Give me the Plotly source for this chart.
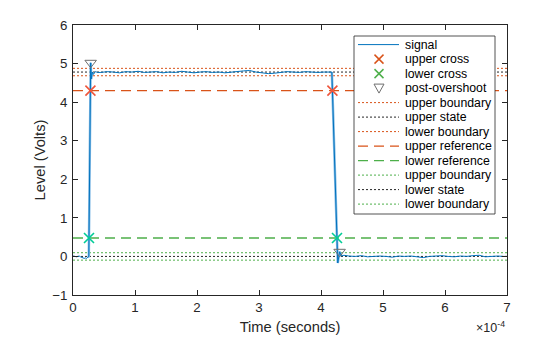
import plotly.graph_objects as go

# ---------------- data ----------------
# time in units of 1e-4 s
time_e4 = [0.00, 0.02, 0.04, 0.06, 0.08, 0.10, 0.12, 0.14, 0.16, 0.18, 0.20, 0.22, 0.24,
           0.255, 0.285, 0.295, 0.31, 0.33, 0.36, 0.40,
           0.45, 0.55, 0.65, 0.75, 0.85, 0.95, 1.05, 1.15, 1.25, 1.35, 1.45, 1.55, 1.65,
           1.75, 1.85, 1.95, 2.05, 2.15, 2.25, 2.35, 2.45, 2.55, 2.65, 2.75, 2.85, 2.95,
           3.05, 3.15, 3.25, 3.35, 3.45, 3.55, 3.65, 3.75, 3.85, 3.95, 4.05, 4.15,
           4.175, 4.27, 4.30, 4.33, 4.37,
           4.45, 4.55, 4.65, 4.75, 4.85, 4.95, 5.05, 5.15, 5.25, 5.35, 5.45, 5.55, 5.65,
           5.75, 5.85, 5.95, 6.05, 6.15, 6.25, 6.35, 6.45, 6.55, 6.65, 6.75, 6.85, 6.95, 7.00]
level = [0.01, 0.00, 0.01, -0.01, 0.00, 0.01, -0.01, -0.03, -0.05, -0.05, -0.04, -0.05, -0.02,
         0.00, 5.02, 4.60, 4.78, 4.72, 4.79, 4.77,
         4.77, 4.79, 4.78, 4.76, 4.79, 4.78, 4.80, 4.77, 4.78, 4.79, 4.76, 4.78, 4.77,
         4.80, 4.78, 4.76, 4.78, 4.79, 4.77, 4.78, 4.76, 4.78, 4.79, 4.81, 4.82, 4.78,
         4.76, 4.74, 4.75, 4.77, 4.79, 4.78, 4.77, 4.79, 4.78, 4.77, 4.78, 4.78,
         4.78, -0.17, 0.12, 0.01, 0.03,
         0.01, 0.00, 0.02, -0.01, 0.00, 0.01, 0.00, -0.02, 0.01, 0.00, 0.01, -0.01, -0.03,
         0.00, 0.01, 0.02, 0.00, -0.01, 0.01, 0.00, 0.02, 0.03, -0.01, 0.00, 0.01, 0.00, 0.00]

upper_cross_t = [0.281, 4.184]
upper_cross_v = [4.30, 4.30]
lower_cross_t = [0.258, 4.258]
lower_cross_v = [0.478, 0.478]
postshoot_t = [0.285, 4.30]
postshoot_v = [5.02, 0.12]

upper_boundary_hi = 4.876
upper_state = 4.78
lower_boundary_hi = 4.684
upper_reference = 4.30
lower_reference = 0.478
upper_boundary_lo = 0.096
lower_state = 0.0
lower_boundary_lo = -0.096

x_ticks = [0, 1, 2, 3, 4, 5, 6, 7]
y_ticks = [-1, 0, 1, 2, 3, 4, 5, 6]

legend_labels = ["signal", "upper cross", "lower cross", "post-overshoot",
                 "upper boundary", "upper state", "lower boundary",
                 "upper reference", "lower reference",
                 "upper boundary", "lower state", "lower boundary"]

# ---------------- styles ----------------
BLUE = "#0072BD"
LIGHTBLUE = "#86BCE6"
ORANGE = "#D95319"
GREEN = "#4DAF4A"
BLACK = "#262626"
GRAY = "#6E6E6E"
FONT = "Liberation Sans, Arial, sans-serif"
SCALE = 1e-4

t_s = [v * SCALE for v in time_e4]
t_end = [time_e4[0] * SCALE, time_e4[-1] * SCALE]

fig = go.Figure()

hlines = [
    (upper_boundary_hi, ORANGE, "2px,2px", 1),
    (upper_state, BLACK, "2px,2px", 1),
    (lower_boundary_hi, ORANGE, "2px,2px", 1),
    (upper_reference, ORANGE, "10px,6px", 1.3),
    (lower_reference, GREEN, "10px,6px", 1.3),
    (upper_boundary_lo, GREEN, "2px,2px", 1),
    (lower_state, BLACK, "2px,2px", 1),
    (lower_boundary_lo, GREEN, "2px,2px", 1),
]
for val, col, dash, w in hlines:
    fig.add_trace(go.Scatter(x=t_end, y=[val, val], mode="lines",
                             line=dict(color=col, dash=dash, width=w),
                             showlegend=False, hoverinfo="skip"))

# transition highlight
i_r0, i_r1 = 12, 17
i_f0, i_f1 = 58, 62
fig.add_trace(go.Scatter(x=t_s[i_r0:i_r1], y=level[i_r0:i_r1], mode="lines",
                         line=dict(color=LIGHTBLUE, width=2.5), showlegend=False))
fig.add_trace(go.Scatter(x=t_s[i_f0:i_f1], y=level[i_f0:i_f1], mode="lines",
                         line=dict(color=LIGHTBLUE, width=2.5), showlegend=False))

fig.add_trace(go.Scatter(x=t_s, y=level, mode="lines",
                         line=dict(color=BLUE, width=1), showlegend=False))

fig.add_trace(go.Scatter(x=[v * SCALE for v in upper_cross_t], y=upper_cross_v, mode="markers",
                         marker=dict(symbol="x-thin-open", size=10,
                                     line=dict(color=ORANGE, width=1.6)),
                         showlegend=False))
fig.add_trace(go.Scatter(x=[v * SCALE for v in lower_cross_t], y=lower_cross_v, mode="markers",
                         marker=dict(symbol="x-thin-open", size=10,
                                     line=dict(color=GREEN, width=1.6)),
                         showlegend=False))
fig.add_trace(go.Scatter(x=[v * SCALE for v in postshoot_t], y=postshoot_v, mode="markers",
                         marker=dict(symbol="triangle-down-open", size=10, color=GRAY,
                                     line=dict(color=GRAY, width=1)),
                         showlegend=False))

# ---------------- custom legend (pixel placement) ----------------
L, R, T, B = 73, 53, 25, 42
W, H = 560, 337
PW, PH = W - L - R, H - T - B


def pxx(x):
    return (x - L) / PW


def pxy(y):
    return (H - B - y) / PH


shapes = [dict(type="rect", xref="paper", yref="paper",
               x0=pxx(354), x1=pxx(495), y0=pxy(214), y1=pxy(36),
               fillcolor="white", line=dict(color=BLACK, width=0.8), layer="above")]
annotations = []
legend_styles = [
    ("line", BLUE, "solid", 1),
    ("x", ORANGE, None, 1.5),
    ("x", GREEN, None, 1.5),
    ("tri", GRAY, None, 1),
    ("line", ORANGE, "2px,2px", 1),
    ("line", BLACK, "2px,2px", 1),
    ("line", ORANGE, "2px,2px", 1),
    ("line", ORANGE, "10px,6px", 1.3),
    ("line", GREEN, "10px,6px", 1.3),
    ("line", GREEN, "2px,2px", 1),
    ("line", BLACK, "2px,2px", 1),
    ("line", GREEN, "2px,2px", 1),
]
row0, step = 44.6, 14.5
for i, (lab, (kind, col, dash, w)) in enumerate(zip(legend_labels, legend_styles)):
    y = row0 + i * step
    if kind == "line":
        shapes.append(dict(type="line", xref="paper", yref="paper",
                           x0=pxx(358), x1=pxx(399), y0=pxy(y), y1=pxy(y),
                           line=dict(color=col, dash=dash, width=w), layer="above"))
    elif kind == "x":
        cx, s = 379, 4.5
        shapes.append(dict(type="line", xref="paper", yref="paper",
                           x0=pxx(cx - s), x1=pxx(cx + s), y0=pxy(y - s), y1=pxy(y + s),
                           line=dict(color=col, width=w), layer="above"))
        shapes.append(dict(type="line", xref="paper", yref="paper",
                           x0=pxx(cx - s), x1=pxx(cx + s), y0=pxy(y + s), y1=pxy(y - s),
                           line=dict(color=col, width=w), layer="above"))
    else:
        cx = 379
        path = "M {} {} L {} {} L {} {} Z".format(pxx(cx - 5), pxy(y - 4), pxx(cx + 5), pxy(y - 4),
                                                 pxx(cx), pxy(y + 5))
        shapes.append(dict(type="path", xref="paper", yref="paper", path=path,
                           line=dict(color=col, width=w), layer="above"))
    annotations.append(dict(xref="paper", yref="paper", x=pxx(403), y=pxy(y),
                            xanchor="left", yanchor="middle", text=lab, showarrow=False,
                            font=dict(family=FONT, size=12.3, color="black")))

annotations.append(dict(xref="paper", yref="paper", x=1.0, y=pxy(327),
                        xanchor="right", yanchor="middle", text="×10<sup>-4</sup>",
                        showarrow=False, font=dict(family=FONT, size=12.5, color=BLACK)))

fig.update_layout(
    width=W, height=H,
    margin=dict(l=L, r=R, t=T, b=B, pad=0, autoexpand=False),
    paper_bgcolor="white", plot_bgcolor="white",
    font=dict(family=FONT, color=BLACK),
    shapes=shapes, annotations=annotations,
    showlegend=False,
    xaxis=dict(range=[t_end[0], t_end[1]], tickvals=[v * SCALE for v in x_ticks],
               ticktext=[str(v) for v in x_ticks], ticks="inside", ticklen=5,
               tickcolor=BLACK, tickwidth=0.8, showline=True, linecolor=BLACK,
               linewidth=0.8, mirror="ticks", showgrid=False, zeroline=False,
               automargin=False, ticklabelstandoff=0,
               tickfont=dict(size=13.3, family=FONT, color=BLACK),
               title=dict(text="Time (seconds)", font=dict(size=14.7, family=FONT, color=BLACK),
                          standoff=7)),
    yaxis=dict(range=[-1, 6], tickvals=y_ticks, ticks="inside", ticklen=5,
               tickcolor=BLACK, tickwidth=0.8, showline=True, linecolor=BLACK,
               linewidth=0.8, mirror="ticks", showgrid=False, zeroline=False,
               automargin=False, ticklabelstandoff=2,
               tickfont=dict(size=13.3, family=FONT, color=BLACK),
               title=dict(text="Level (Volts)", font=dict(size=14.7, family=FONT, color=BLACK),
                          standoff=3)),
)

fig.write_html("out.html")
